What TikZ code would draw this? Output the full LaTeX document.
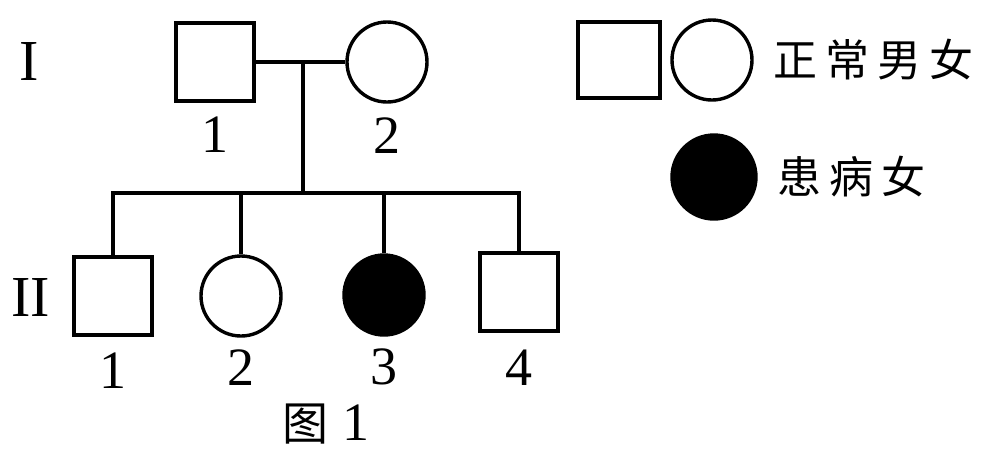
\documentclass[tikz,border=0pt]{standalone}
\usepackage{fontspec}
\setmainfont{Liberation Serif}
\newfontfamily\cjk{Noto Sans CJK SC}
\usetikzlibrary{positioning}

\begin{document}
\begin{tikzpicture}[x=0.5pt,y=-0.5pt,line width=1.7pt,
 male/.style={draw,rectangle,minimum size=39pt,inner sep=0pt},
 female/.style={draw,circle,minimum size=40pt,inner sep=0pt},
 ill/.style={female,fill=black},
 num/.style={inner sep=0pt,font=\fontsize{27}{30}\selectfont},
 gen/.style={inner sep=0pt,font=\fontsize{29}{32}\selectfont},
 key/.style={inner sep=0pt,font=\cjk\fontsize{22}{26}\selectfont}]
\useasboundingbox (0,0) rectangle (982,452);
% generation I
\node[gen] (genI) at (29,62) {I};
\node[male] (i1) at (215,62) {};
\node[female] (i2) at (387,62) {};
\node[num,below=6pt of i1] (n11) {1};
\node[num,below=6pt of i2] (n12) {2};
% generation II
\node[gen] (genII) at (31,298) {II};
\node[male] (ii1) at (113,296) {};
\node[female] (ii2) at (241,296) {};
\node[ill] (ii3) at (384,295) {};
\node[male] (ii4) at (519,292) {};
\node[num,below=7pt of ii1] (n21) {1};
\node[num,below=5pt of ii2] (n22) {2};
\node[num,below=5pt of ii3] (n23) {3};
\node[num,below=8pt of ii4] (n24) {4};
% mating and sibship lines
\coordinate (mate) at (303,62);
\coordinate (sib) at (303,193);
\draw (i1) -- (i2);
\draw (mate) -- (sib);
\draw (ii1.north) -- (ii1.north |- sib) -- (ii4.north |- sib) -- (ii4.north);
\foreach \k in {ii2,ii3}
 \draw (\k.north |- sib) -- (\k.north);
% legend
\node[male,minimum width=41pt,minimum height=38pt] (keym) at (619,60) {};
\node[female] (keyf) at (712,60) {};
\node[key,right=9pt of keyf] (keyn) {正\hspace{4pt}常\hspace{4pt}男\hspace{4pt}女};
\node[ill,minimum size=42pt] (keya) at (714,177) {};
\node[key,right=9pt of keya] (keyt) {患\hspace{4pt}病\hspace{4pt}女};
% caption
\node[num] (cap) at (326,424) {{\cjk\fontsize{23}{26}\selectfont 图}\hspace{7pt}1};
\end{tikzpicture}
\end{document}
